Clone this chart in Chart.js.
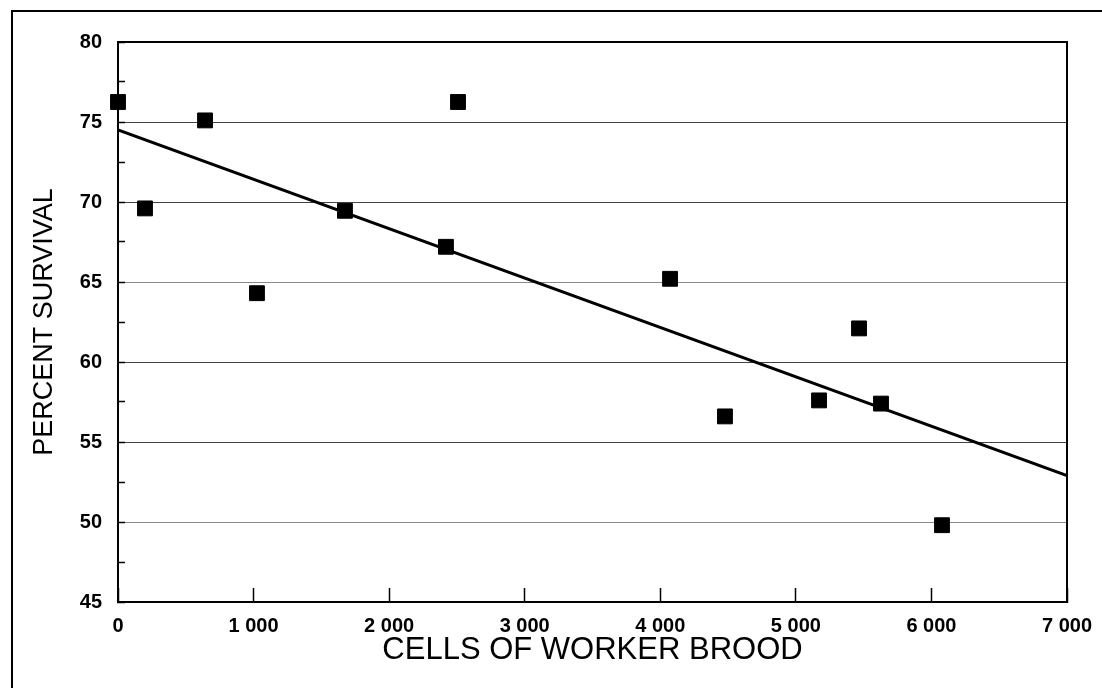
<!DOCTYPE html>
<html>
<head>
<meta charset="utf-8">
<script src="https://cdn.jsdelivr.net/npm/chart.js@4.4.1/dist/chart.umd.min.js"></script>
<style>
  html, body { margin: 0; padding: 0; background: #fff; }
  #wrap { width: 1102px; height: 688px; }
</style>
</head>
<body>
<div id="wrap"><canvas id="chart" width="1102" height="688"></canvas></div>
<script>
// brood cells vs. percent survival
const broodCells = [0, 199, 642, 1025, 1674, 2419, 2508, 4072, 4477, 5171, 5466, 5628, 6078];
const survival = [76.25, 69.6, 75.1, 64.3, 69.45, 67.2, 76.25, 65.2, 56.6, 57.6, 62.1, 57.4, 49.8];

// fitted line end points
const fitX = [0, 7000];
const fitY = [74.5, 52.9];

const yTicks = [45, 50, 55, 60, 65, 70, 75, 80];
const xTicks = [0, 1000, 2000, 3000, 4000, 5000, 6000, 7000];

const frame = {
  id: 'frame',
  afterDraw(chart) {
    const ctx = chart.ctx;
    const a = chart.chartArea;
    ctx.save();
    ctx.strokeStyle = '#000';
    ctx.lineWidth = 2;
    ctx.strokeRect(a.left, a.top, a.right - a.left, a.bottom - a.top);
    ctx.beginPath();
    ctx.moveTo(12, 688);
    ctx.lineTo(12, 11);
    ctx.lineTo(1102, 11);
    ctx.stroke();
    ctx.restore();
  }
};

const fmt = v => {
  if (v < 1000) return String(v);
  const s = String(v);
  return s.slice(0, s.length - 3) + ' ' + s.slice(-3);
};

new Chart(document.querySelector('#chart').getContext('2d'), {
  data: {
    datasets: [
      {
        type: 'line',
        data: fitX.map((x, i) => ({ x: x, y: fitY[i] })),
        borderColor: '#000',
        borderWidth: 3,
        pointRadius: 0,
        order: 2
      },
      {
        type: 'scatter',
        data: broodCells.map((x, i) => ({ x: x, y: survival[i] })),
        pointStyle: 'rect',
        pointRadius: 10.5,
        pointBackgroundColor: '#000',
        pointBorderColor: '#000',
        pointBorderWidth: 1,
        clip: false,
        order: 1
      }
    ]
  },
  options: {
    responsive: false,
    animation: false,
    layout: { padding: { top: 42, right: 35, left: 0, bottom: 0 } },
    plugins: { legend: { display: false }, tooltip: { enabled: false } },
    scales: {
      x: {
        type: 'linear',
        min: 0,
        max: 7000,
        afterBuildTicks: s => { s.ticks = xTicks.map(v => ({ value: v })); },
        afterFit: s => { s.height = 86; s.paddingLeft = 0; s.paddingRight = 0; },
        border: { display: true, color: '#000', width: 2 },
        grid: { drawOnChartArea: false, drawTicks: true, tickLength: -14, tickColor: '#000', tickWidth: 1.5 },
        ticks: {
          padding: 26,
          maxRotation: 0,
          autoSkip: false,
          color: '#000',
          font: { family: '"Liberation Sans", Arial, sans-serif', size: 20, weight: 'bold' },
          callback: v => fmt(v)
        },
        title: {
          display: true,
          text: 'CELLS OF WORKER BROOD',
          color: '#000',
          padding: { top: 0, bottom: 19 },
          font: { family: '"Liberation Sans", Arial, sans-serif', size: 31 }
        }
      },
      y: {
        type: 'linear',
        min: 45,
        max: 80,
        ticks: {
          stepSize: 2.5,
          padding: 23,
          autoSkip: false,
          color: '#000',
          font: { family: '"Liberation Sans", Arial, sans-serif', size: 20, weight: 'bold' },
          callback: v => (yTicks.includes(v) ? String(v) : '')
        },
        afterFit: s => { s.width = 118; },
        border: { display: true, color: '#000', width: 2 },
        grid: {
          drawTicks: true,
          tickLength: -7,
          tickColor: '#000',
          tickWidth: 1.5,
          lineWidth: 1,
          color: c => {
            const v = c.tick ? c.tick.value : null;
            if (v === 65 || v === 50) return '#8a8a8a';
            if (v === 55 || v === 60 || v === 70 || v === 75) return '#444';
            return 'rgba(0,0,0,0)';
          }
        },
        title: {
          display: true,
          text: 'PERCENT SURVIVAL',
          color: '#000',
          padding: { top: 28, bottom: 0 },
          font: { family: '"Liberation Sans", Arial, sans-serif', size: 27 }
        }
      }
    }
  },
  plugins: [frame]
});
</script>
</body>
</html>
